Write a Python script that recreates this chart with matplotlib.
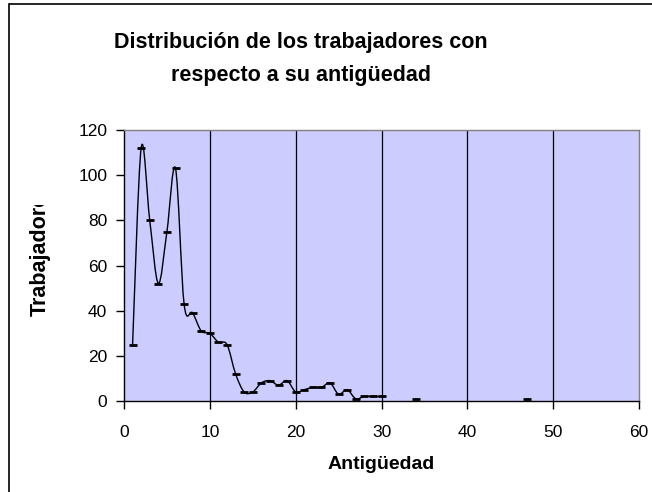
import matplotlib
matplotlib.use("Agg")
import matplotlib.pyplot as plt
from matplotlib.path import Path
from matplotlib.patches import PathPatch, Rectangle
from matplotlib.transforms import Bbox

plt.rcParams['font.family'] = ['Liberation Sans', 'DejaVu Sans']

# Data
antiguedad = [1, 2, 3, 4, 5, 6, 7, 8, 9, 10, 11, 12, 13, 14, 15, 16, 17, 18, 19, 20,
              21, 22, 23, 24, 25, 26, 27, 28, 29, 30, 34, 47]
trabajadores = [25, 112, 80, 52, 75, 103, 43, 39, 31, 30, 26, 25, 12, 4, 4, 8, 9, 7, 9, 4,
                5, 6, 6, 8, 3, 5, 1, 2, 2, 2, 1, 1]
title = "Distribución de los trabajadores con\nrespecto a su antigüedad"
xlabel = "Antigüedad"
ylabel = "Trabajadores"
xticks = [0, 10, 20, 30, 40, 50, 60]
yticks = [0, 20, 40, 60, 80, 100, 120]

W, H = 652, 492
fig = plt.figure(figsize=(W / 100, H / 100), dpi=100)
fig.patch.set_facecolor('white')

# chart border (left and top visible)
fig.add_artist(Rectangle((9 / W, -0.1), 1.2, (H - 4) / H + 0.1, transform=fig.transFigure,
                         fill=False, edgecolor='black', lw=1.2))

ax = fig.add_axes([124 / W, 1 - 401 / H, (639 - 124) / W, (401 - 130) / H])
ax.set_facecolor('#CCCCFF')
ax.set_xlim(0, 60)
ax.set_ylim(0, 120)
ax.set_xticks(xticks)
ax.set_yticks(yticks)
ax.tick_params(direction='out', length=6, width=1, labelsize=12.5, color='black')
ax.tick_params(axis='x', pad=11)
ax.tick_params(axis='y', pad=6)
for s in ['left', 'bottom']:
    ax.spines[s].set_color('black')
    ax.spines[s].set_linewidth(1)
for s in ['top', 'right']:
    ax.spines[s].set_color('#808080')
    ax.spines[s].set_linewidth(1)
for xv in xticks[1:-1]:
    ax.axvline(xv, color='black', lw=0.9, zorder=1)

# smoothed line (Bezier, Excel style) through consecutive runs
segments = []
cur = [(antiguedad[0], trabajadores[0])]
for x, y in zip(antiguedad[1:], trabajadores[1:]):
    if x - cur[-1][0] > 1:
        segments.append(cur)
        cur = []
    cur.append((x, y))
segments.append(cur)

for seg in segments:
    if len(seg) < 2:
        continue
    verts = [seg[0]]
    codes = [Path.MOVETO]
    n = len(seg)
    for i in range(n - 1):
        p0 = seg[i - 1] if i > 0 else seg[i]
        p1 = seg[i]
        p2 = seg[i + 1]
        p3 = seg[i + 2] if i + 2 < n else seg[i + 1]
        c1 = (p1[0] + (p2[0] - p0[0]) / 6, p1[1] + (p2[1] - p0[1]) / 6)
        c2 = (p2[0] - (p3[0] - p1[0]) / 6, p2[1] - (p3[1] - p1[1]) / 6)
        verts += [c1, c2, p2]
        codes += [Path.CURVE4] * 3
    ax.add_patch(PathPatch(Path(verts, codes), fill=False, edgecolor='black', lw=1, zorder=3))

ax.plot(antiguedad, trabajadores, linestyle='none', marker='_', markersize=6,
        markeredgewidth=2, color='black', zorder=4)

fig.text(301 / W, 1 - 59 / H, title, ha='center', va='center',
         fontsize=15.5, fontweight='bold', linespacing=1.75)
ax.set_xlabel(xlabel, fontsize=14, fontweight='bold', labelpad=12)

yl = fig.text(40 / W, 1 - 316 / H, ylabel, rotation=90, ha='center', va='bottom',
              fontsize=15.5, fontweight='bold')
yl.set_clip_box(Bbox.from_extents(0, 0, W, H - 205))
yl.set_clip_on(True)

fig.savefig('out.png', dpi=100)
